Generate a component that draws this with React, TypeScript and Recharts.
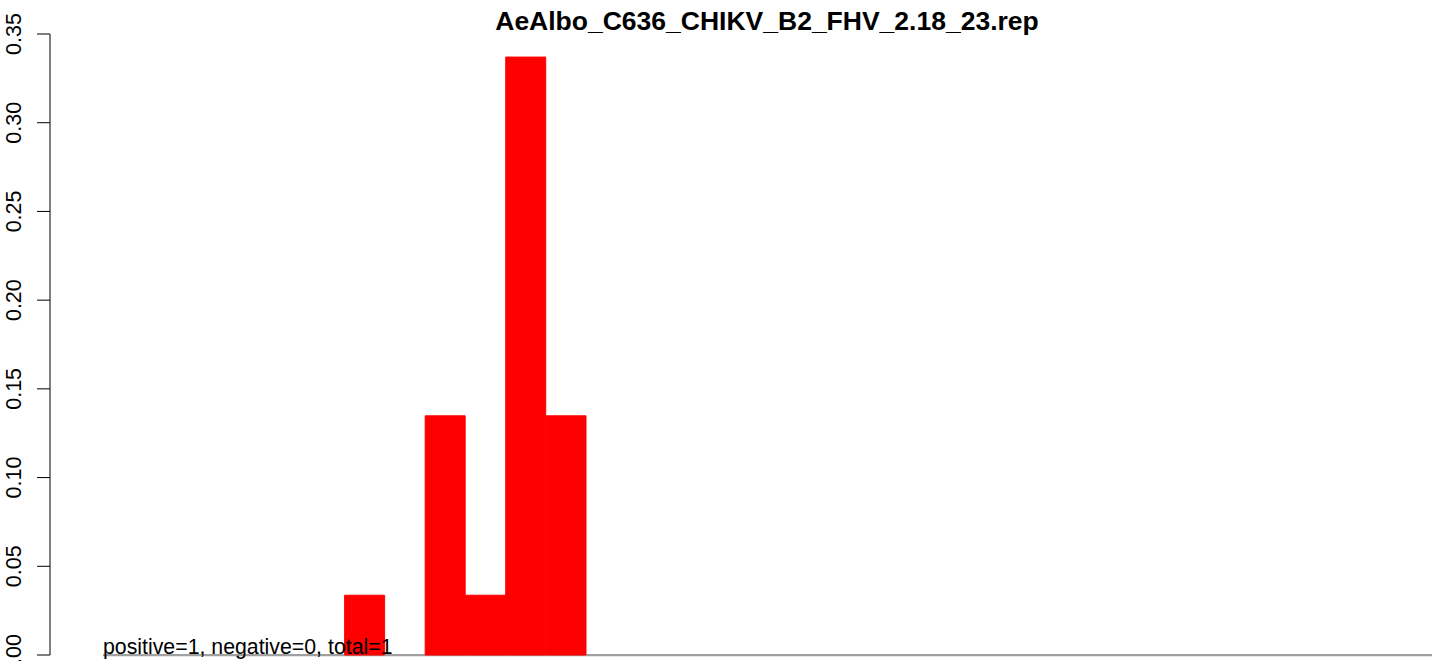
import { BarChart, Bar, XAxis, YAxis, ReferenceArea } from 'recharts'

const TITLE = 'AeAlbo_C636_CHIKV_B2_FHV_2.18_23.rep'
const NOTE = 'positive=1, negative=0, total=1'

const BINS = [
  '1', '2', '3', '4', '5', '6', '7', '8', '9', '10', '11',
  '12', '13', '14', '15', '16', '17', '18', '19', '20', '21', '22',
  '23', '24', '25', '26', '27', '28', '29', '30', '31', '32', '33',
]
const FRACTIONS = [
  0, 0, 0, 0, 0, 0, 0.0337, 0, 0.1348, 0.0337, 0.337,
  0.1348, 0, 0, 0, 0, 0, 0, 0, 0, 0, 0,
  0, 0, 0, 0, 0, 0, 0, 0, 0, 0, 0,
]
const Y_TICKS = [0, 0.05, 0.1, 0.15, 0.2, 0.25, 0.3, 0.35]

const FONT = '"Liberation Sans", Arial, Helvetica, sans-serif'

const data = BINS.map((bin, i) => ({ bin, value: FRACTIONS[i] }))

function RotatedTick({ x, y, payload }: any) {
  return (
    <text
      transform={`translate(${x - 14},${y}) rotate(-90)`}
      textAnchor="middle"
      fontFamily={FONT}
      fontSize={21.5}
      fill="#000"
    >
      {Number(payload.value).toFixed(2)}
    </text>
  )
}

export default function App() {
  return (
    <div style={{ position: 'absolute', left: 0, top: 0, width: 1439, height: 661, background: '#fff' }}>
      <div
        style={{
          position: 'absolute',
          left: 767,
          top: 8,
          transform: 'translateX(-50%)',
          whiteSpace: 'nowrap',
          fontFamily: FONT,
          fontWeight: 'bold',
          fontSize: 26.5,
          lineHeight: '26px',
          color: '#000',
        }}
      >
        {TITLE}
      </div>
      <BarChart
        width={1439}
        height={661}
        data={data}
        margin={{ top: 34, right: 0, bottom: 6, left: 0 }}
        barCategoryGap={0}
      >
        <XAxis dataKey="bin" hide padding={{ left: 53, right: 7 }} />
        <YAxis
          width={50}
          domain={[0, 0.35]}
          ticks={Y_TICKS}
          interval={0}
          tickSize={13}
          tickLine={{ stroke: '#000' }}
          axisLine={{ stroke: '#000' }}
          tick={<RotatedTick />}
        />
        <Bar
          dataKey="value"
          fill="#ff0000"
          stroke="#ff0000"
          strokeWidth={1}
          isAnimationActive={false}
        />
        <ReferenceArea
          x1={BINS[0]}
          x2={BINS[BINS.length - 1]}
          y1={-0.0007}
          y2={0.0005}
          ifOverflow="visible"
          fill="#a0a0a0"
          fillOpacity={1}
          stroke="none"
        />
      </BarChart>
      <div
        style={{
          position: 'absolute',
          left: 103,
          top: 637,
          whiteSpace: 'nowrap',
          fontFamily: FONT,
          fontSize: 21.3,
          lineHeight: '21px',
          color: '#000',
        }}
      >
        {NOTE}
      </div>
    </div>
  )
}
